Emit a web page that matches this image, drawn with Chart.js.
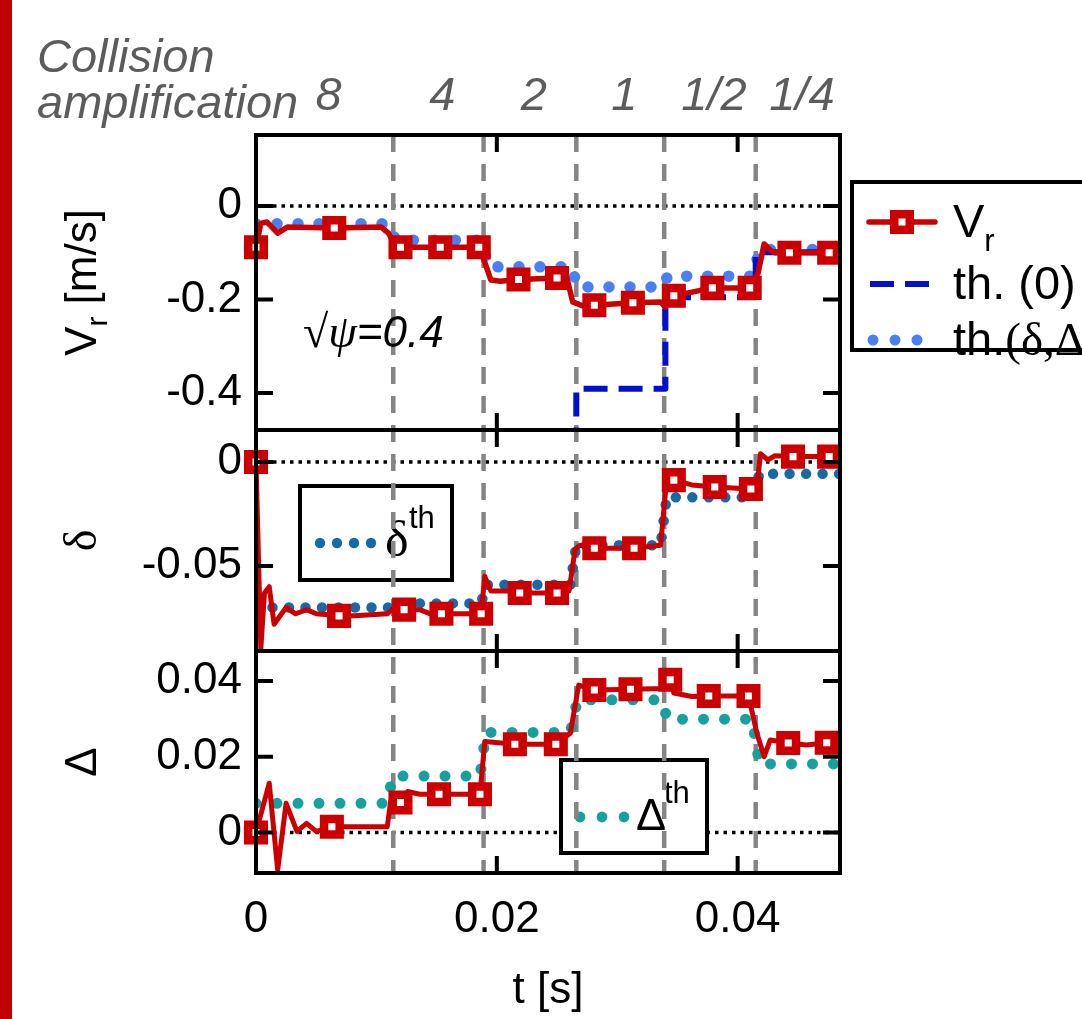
<!DOCTYPE html>
<html>
<head>
<meta charset="utf-8">
<script src="https://cdn.jsdelivr.net/npm/chart.js@4.4.1/dist/chart.umd.min.js"></script>
<style>
html,body{margin:0;padding:0;background:#fff;width:1082px;height:1019px;overflow:hidden;}
#bar{position:absolute;left:0;top:0;width:12px;height:1019px;background:#c00000;}
canvas{position:absolute;left:0;top:0;}
</style>
</head>
<body>
<div id="bar"></div>
<canvas id="cA" width="1082" height="1019"></canvas>
<canvas id="cB" width="1082" height="1019"></canvas>
<canvas id="cC" width="1082" height="1019"></canvas>
<script>
// ================= DATA =================
const switchTimes = [0.0114, 0.0189, 0.0266, 0.0339, 0.0415];
const amplificationLabels = ['8', '4', '2', '1', '1/2', '1/4'];
const xTickValues = [0, 0.02, 0.04];
const xTickLabels = ['0', '0.02', '0.04'];

const vrTickValues = [0, -0.2, -0.4];
const vrTickLabels = ['0', '-0.2', '-0.4'];
const dlTickValues = [0, -0.05];
const dlTickLabels = ['0', '-0.05'];
const ddTickValues = [0, 0.02, 0.04];
const ddTickLabels = ['0', '0.02', '0.04'];

// V_r measured
const tVr = [0, 0.0004, 0.0009, 0.0018, 0.0026, 0.0065, 0.0104, 0.0110, 0.0115, 0.0120, 0.0153, 0.0185, 0.0190, 0.0195, 0.0203, 0.0218, 0.0250, 0.0258, 0.0263, 0.0273, 0.0281, 0.0313, 0.0336, 0.0340, 0.0347, 0.0379, 0.0410, 0.0417, 0.0422, 0.0427, 0.0431, 0.0443, 0.0476, 0.0485];
const vr  = [-0.088, -0.037, -0.034, -0.058, -0.045, -0.047, -0.045, -0.058, -0.080, -0.088, -0.088, -0.088, -0.120, -0.158, -0.161, -0.157, -0.154, -0.152, -0.205, -0.215, -0.212, -0.207, -0.205, -0.216, -0.192, -0.175, -0.175, -0.143, -0.081, -0.094, -0.100, -0.100, -0.100, -0.100];
const tVrMk = [0, 0.0065, 0.0120, 0.0153, 0.0185, 0.0218, 0.0250, 0.0281, 0.0313, 0.0347, 0.0379, 0.0410, 0.0443, 0.0476];
const vrMk  = [-0.088, -0.047, -0.088, -0.088, -0.088, -0.157, -0.154, -0.212, -0.207, -0.192, -0.175, -0.175, -0.100, -0.100];
// th.(delta, Delta)
const tVrTh = [0, 0.0110, 0.0116, 0.0187, 0.0193, 0.0262, 0.0267, 0.0337, 0.0342, 0.0413, 0.0418, 0.0485];
const vrTh  = [-0.038, -0.038, -0.073, -0.073, -0.130, -0.130, -0.173, -0.173, -0.150, -0.150, -0.093, -0.093];
// th.(0)
const tVr0 = [0.0266, 0.0266, 0.0340, 0.0340, 0.0415, 0.0415, 0.0485];
const vr0  = [-0.60, -0.391, -0.391, -0.195, -0.195, -0.099, -0.099];

// delta measured
const tDl = [0, 0.0004, 0.0007, 0.0011, 0.0015, 0.0025, 0.0033, 0.0042, 0.0050, 0.0069, 0.0082, 0.0109, 0.0117, 0.0123, 0.0136, 0.0149, 0.0154, 0.0187, 0.0190, 0.0195, 0.0209, 0.0219, 0.0250, 0.0260, 0.0265, 0.0269, 0.0281, 0.0314, 0.0336, 0.0341, 0.0347, 0.0362, 0.0381, 0.0411, 0.0416, 0.0419, 0.0425, 0.0431, 0.0446, 0.0476, 0.0485];
const dl  = [0, -0.090, -0.063, -0.060, -0.078, -0.070, -0.073, -0.071, -0.073, -0.074, -0.074, -0.073, -0.069, -0.071, -0.071, -0.074, -0.073, -0.073, -0.055, -0.062, -0.062, -0.063, -0.063, -0.062, -0.042, -0.040, -0.0415, -0.0415, -0.040, -0.0087, -0.0087, -0.011, -0.012, -0.013, -0.012, 0.004, 0.001, 0.003, 0.0026, 0.0026, 0.0026];
const tDlMk = [0, 0.0069, 0.0123, 0.0154, 0.0187, 0.0219, 0.0250, 0.0281, 0.0314, 0.0347, 0.0381, 0.0411, 0.0446, 0.0476];
const dlMk  = [0, -0.074, -0.071, -0.073, -0.073, -0.063, -0.063, -0.0415, -0.0415, -0.0087, -0.012, -0.013, 0.0026, 0.0026];
const tDlTh = [0, 0.0110, 0.0116, 0.0187, 0.0191, 0.0261, 0.0266, 0.0336, 0.0341, 0.0413, 0.0418, 0.0485];
const dlTh  = [-0.070, -0.070, -0.068, -0.068, -0.059, -0.059, -0.040, -0.040, -0.017, -0.017, -0.0057, -0.0057];

// Delta measured
const tDD = [0, 0.0011, 0.0018, 0.0025, 0.0034, 0.0042, 0.0050, 0.0063, 0.0109, 0.0112, 0.0120, 0.0126, 0.0136, 0.0152, 0.0186, 0.0190, 0.0215, 0.0249, 0.0261, 0.0268, 0.0281, 0.0311, 0.0339, 0.0344, 0.0347, 0.0362, 0.0376, 0.0409, 0.0416, 0.0422, 0.0427, 0.0442, 0.0457, 0.0474, 0.0485];
const dd  = [0, 0.0130, -0.0099, 0.0077, 0.0003, 0.0024, 0.0003, 0.0015, 0.0015, 0.0086, 0.0079, 0.0108, 0.0101, 0.0101, 0.0101, 0.0240, 0.0233, 0.0233, 0.0262, 0.0389, 0.0376, 0.0378, 0.0380, 0.0403, 0.0368, 0.0359, 0.0360, 0.0360, 0.0262, 0.0200, 0.0244, 0.0236, 0.0231, 0.0237, 0.0236];
const tDDMk = [0, 0.0063, 0.0120, 0.0152, 0.0186, 0.0215, 0.0249, 0.0281, 0.0311, 0.0344, 0.0376, 0.0409, 0.0442, 0.0474];
const ddMk  = [0, 0.0015, 0.0079, 0.0101, 0.0101, 0.0233, 0.0233, 0.0376, 0.0378, 0.0403, 0.0360, 0.0360, 0.0236, 0.0237];
const tDDTh = [0, 0.0108, 0.0114, 0.0186, 0.0191, 0.0261, 0.0267, 0.0336, 0.0342, 0.0412, 0.0418, 0.0485];
const ddTh  = [0.0077, 0.0077, 0.0149, 0.0149, 0.0264, 0.0264, 0.0350, 0.0350, 0.0299, 0.0299, 0.0181, 0.0181];

// ================= STYLE / LAYOUT =================
const SANS = "'Liberation Sans', Arial, Helvetica, sans-serif";
const SERIF = "'Liberation Serif', 'Times New Roman', serif";
const RED = '#cc0000';
const BLUE_LIGHT = '#4a80f7';
const BLUE_DARK = '#0010cc';
const DL_COL = '#186aa6';
const DD_COL = '#17a0a0';
const GRAY = '#858585';
const TEXT_GRAY = '#5c5c5c';
const W = 1082, H = 1019;
const PLOT_LEFT = 256, PLOT_RIGHT = 840;
const GRID_TOP = 135, GRID_BOTTOM = 873;
const T_MIN = 0, T_MAX = 0.0485;
const MK_R = 11, MK_BW = 8.5;
Chart.defaults.font.family = SANS;

function pts(ts, vs) { return ts.map((t, i) => ({ x: t, y: vs[i] })); }

function lineDS(ts, vs, color, width, extra) {
  return Object.assign({
    data: pts(ts, vs), borderColor: color, borderWidth: width, pointRadius: 0,
    tension: 0, fill: false, borderJoinStyle: 'round'
  }, extra || {});
}
function dotDS(ts, vs, color, size, gap) {
  return lineDS(ts, vs, color, size, { borderDash: [0.001, gap], borderCapStyle: 'round' });
}
function markerDS(ts, vs) {
  return {
    data: pts(ts, vs), showLine: false, pointStyle: 'rect', pointRadius: MK_R,
    pointBorderWidth: MK_BW, pointBorderColor: RED, pointBackgroundColor: '#fff', clip: false
  };
}

function drawRich(ctx, x, y, parts, align) {
  let total = 0;
  parts.forEach(p => { ctx.font = p.font; p.w = ctx.measureText(p.text).width; total += p.w; });
  let xx = align === 'center' ? x - total / 2 : x;
  ctx.textAlign = 'left'; ctx.textBaseline = 'alphabetic';
  parts.forEach(p => { ctx.font = p.font; ctx.fillText(p.text, xx, y + (p.dy || 0)); xx += p.w; });
}

function drawYTitle(ctx, parts, baselineX, centerY) {
  ctx.save();
  ctx.translate(baselineX, centerY);
  ctx.rotate(-Math.PI / 2);
  ctx.fillStyle = '#000';
  drawRich(ctx, 0, 0, parts, 'center');
  ctx.restore();
}

function dots(ctx, xs, y, r, color) {
  ctx.fillStyle = color;
  xs.forEach(x => { ctx.beginPath(); ctx.arc(x, y, r, 0, Math.PI * 2); ctx.fill(); });
}

function makePanelPlugin(spec) {
  return {
    id: 'panel_' + spec.name,
    beforeDatasetsDraw(chart) {
      const { ctx, chartArea: a, scales: { x, y } } = chart;
      ctx.save();
      ctx.beginPath(); ctx.rect(a.left, a.top, a.right - a.left, a.bottom - a.top); ctx.clip();
      // zero reference line
      const y0 = y.getPixelForValue(0);
      ctx.strokeStyle = '#000'; ctx.lineWidth = 3.5; ctx.setLineDash([3.5, 5]); ctx.lineCap = 'butt';
      ctx.beginPath(); ctx.moveTo(a.left, y0); ctx.lineTo(a.right, y0); ctx.stroke();
      // inset legend
      if (spec.inset) { ctx.setLineDash([]); spec.inset(ctx); }
      // switch lines
      ctx.strokeStyle = GRAY; ctx.lineWidth = 4.5; ctx.setLineDash([17, 12]);
      switchTimes.forEach(t => {
        const px = x.getPixelForValue(t);
        ctx.beginPath(); ctx.moveTo(px, GRID_TOP); ctx.lineTo(px, GRID_BOTTOM); ctx.stroke();
      });
      ctx.restore();
    },
    afterDraw(chart) {
      const { ctx, chartArea: a, scales: { x, y } } = chart;
      ctx.save();
      ctx.setLineDash([]);
      ctx.strokeStyle = '#000'; ctx.lineWidth = 4;
      ctx.strokeRect(a.left, a.top, a.right - a.left, a.bottom - a.top);
      const TL = 17;
      ctx.beginPath();
      spec.ticks.forEach(v => {
        const py = y.getPixelForValue(v);
        ctx.moveTo(a.left, py); ctx.lineTo(a.left + TL, py);
        ctx.moveTo(a.right - TL, py); ctx.lineTo(a.right, py);
      });
      xTickValues.forEach(v => {
        if (v === T_MIN) return;
        const px = x.getPixelForValue(v);
        ctx.moveTo(px, a.top); ctx.lineTo(px, a.top + TL);
        ctx.moveTo(px, a.bottom - TL); ctx.lineTo(px, a.bottom);
      });
      ctx.stroke();
      drawYTitle(ctx, spec.title, 96, (a.top + a.bottom) / 2);
      if (spec.extra) spec.extra(ctx, chart);
      ctx.restore();
    }
  };
}

function makeChart(id, spec) {
  const showX = !!spec.showX;
  return new Chart(document.getElementById(id), {
    type: 'line',
    data: { datasets: spec.datasets },
    options: {
      responsive: false, animation: false, devicePixelRatio: 1, events: [],
      layout: { padding: { left: 0, right: W - PLOT_RIGHT, top: spec.top, bottom: showX ? 0 : H - spec.bottom } },
      plugins: { legend: { display: false }, tooltip: { enabled: false } },
      scales: {
        x: {
          type: 'linear', min: T_MIN, max: T_MAX, display: showX,
          grid: { display: false, drawTicks: false }, border: { display: false },
          afterBuildTicks: s => { s.ticks = xTickValues.map(v => ({ value: v })); },
          ticks: { callback: (v, i) => xTickLabels[i], font: { family: SANS, size: 44 }, color: '#000', padding: 20, maxRotation: 0, autoSkip: false },
          title: { display: showX, text: 't [s]', font: { family: SANS, size: 44 }, color: '#000', padding: { top: 0, bottom: 2 } },
          afterFit: s => { s.height = showX ? H - spec.bottom : 0; }
        },
        y: {
          type: 'linear', min: spec.yMin, max: spec.yMax,
          grid: { display: false, drawTicks: false }, border: { display: false },
          afterBuildTicks: s => { s.ticks = spec.ticks.map(v => ({ value: v })); },
          ticks: { callback: (v, i) => spec.tickLabels[i], font: { family: SANS, size: 44 }, color: '#000', padding: 14, autoSkip: false },
          afterFit: s => { s.width = PLOT_LEFT; }
        }
      }
    },
    plugins: [makePanelPlugin(spec)]
  });
}

// ----- Panel A : V_r -----
makeChart('cA', {
  name: 'vr', top: GRID_TOP, bottom: 430, yMin: -0.479, yMax: 0.152,
  ticks: vrTickValues, tickLabels: vrTickLabels,
  title: [
    { text: 'V', font: `44px ${SANS}` },
    { text: 'r', font: `30px ${SANS}`, dy: 11 },
    { text: ' [m/s]', font: `44px ${SANS}` }
  ],
  datasets: [
    markerDS(tVrMk, vrMk),
    lineDS(tVr, vr, RED, 5.5),
    lineDS(tVr0, vr0, BLUE_DARK, 6, { borderDash: [24, 11] }),
    dotDS(tVrTh, vrTh, BLUE_LIGHT, 11.5, 21)
  ],
  extra(ctx, chart) {
    const x = chart.scales.x;
    // collision amplification header
    ctx.fillStyle = TEXT_GRAY;
    ctx.font = `italic 47px ${SANS}`;
    ctx.textAlign = 'left'; ctx.textBaseline = 'alphabetic';
    ctx.fillText('Collision', 37, 72);
    ctx.fillText('amplification', 37, 118);
    const bounds = [T_MIN, ...switchTimes, T_MAX];
    ctx.textAlign = 'center';
    amplificationLabels.forEach((lab, i) => {
      ctx.fillText(lab, x.getPixelForValue((bounds[i] + bounds[i + 1]) / 2) + 4, 110);
    });
    // sqrt(psi) annotation
    ctx.fillStyle = '#000';
    drawRich(ctx, 303, 347, [
      { text: '\u221A\u03C8', font: `italic 46px ${SERIF}` },
      { text: '=0.4', font: `italic 44px ${SANS}` }
    ]);
    // right legend
    ctx.strokeStyle = '#000'; ctx.lineWidth = 4; ctx.setLineDash([]);
    ctx.strokeRect(852, 182, 320, 168);
    ctx.strokeStyle = RED; ctx.lineWidth = 5.5; ctx.lineCap = 'round';
    ctx.beginPath(); ctx.moveTo(869, 222); ctx.lineTo(935, 222); ctx.stroke();
    ctx.lineCap = 'butt';
    const s = MK_R * Math.SQRT2;
    ctx.fillStyle = '#fff'; ctx.lineWidth = MK_BW;
    ctx.fillRect(902 - s / 2, 222 - s / 2, s, s); ctx.strokeRect(902 - s / 2, 222 - s / 2, s, s);
    ctx.fillStyle = '#000';
    drawRich(ctx, 953, 237, [
      { text: 'V', font: `47px ${SANS}` },
      { text: 'r', font: `31px ${SANS}`, dy: 14 }
    ]);
    ctx.strokeStyle = BLUE_DARK; ctx.lineWidth = 6; ctx.setLineDash([24, 11]);
    ctx.beginPath(); ctx.moveTo(870, 284); ctx.lineTo(934, 284); ctx.stroke();
    ctx.setLineDash([]);
    ctx.fillStyle = '#000';
    drawRich(ctx, 953, 299, [{ text: 'th. (0)', font: `47px ${SANS}` }]);
    dots(ctx, [873, 895, 917], 340, 5.5, BLUE_LIGHT);
    ctx.fillStyle = '#000';
    drawRich(ctx, 953, 355, [
      { text: 'th.', font: `47px ${SANS}` },
      { text: '(\u03B4,\u0394)', font: `47px ${SERIF}` }
    ]);
  }
});

// ----- Panel B : delta -----
makeChart('cB', {
  name: 'dl', top: 430, bottom: 651, yMin: -0.0909, yMax: 0.0154,
  ticks: dlTickValues, tickLabels: dlTickLabels,
  title: [{ text: '\u03B4', font: `46px ${SERIF}` }],
  datasets: [
    markerDS(tDlMk, dlMk),
    lineDS(tDl, dl, RED, 5),
    dotDS(tDlTh, dlTh, DL_COL, 10.5, 16.5)
  ],
  inset(ctx) {
    ctx.fillStyle = '#fff'; ctx.fillRect(300, 486, 152, 94);
    ctx.strokeStyle = '#000'; ctx.lineWidth = 4; ctx.strokeRect(300, 486, 152, 94);
    dots(ctx, [320, 337, 354, 371], 543, 5.2, DL_COL);
    ctx.fillStyle = '#000';
    drawRich(ctx, 385, 556, [{ text: '\u03B4', font: `50px ${SERIF}` }]);
    drawRich(ctx, 409, 528, [{ text: 'th', font: `31px ${SANS}` }]);
  }
});

// ----- Panel C : Delta -----
makeChart('cC', {
  name: 'dd', top: 651, bottom: GRID_BOTTOM, showX: true, yMin: -0.0107, yMax: 0.0479,
  ticks: ddTickValues, tickLabels: ddTickLabels,
  title: [{ text: '\u0394', font: `44px ${SANS}` }],
  datasets: [
    markerDS(tDDMk, ddMk),
    lineDS(tDD, dd, RED, 5),
    dotDS(tDDTh, ddTh, DD_COL, 11, 21)
  ],
  inset(ctx) {
    ctx.fillStyle = '#fff'; ctx.fillRect(561, 760, 146, 93);
    ctx.strokeStyle = '#000'; ctx.lineWidth = 4; ctx.strokeRect(561, 760, 146, 93);
    dots(ctx, [580, 602, 624], 817, 5.4, DD_COL);
    ctx.fillStyle = '#000';
    drawRich(ctx, 636, 830, [{ text: '\u0394', font: `45px ${SANS}` }]);
    drawRich(ctx, 664, 803, [{ text: 'th', font: `31px ${SANS}` }]);
  }
});
</script>
</body>
</html>
